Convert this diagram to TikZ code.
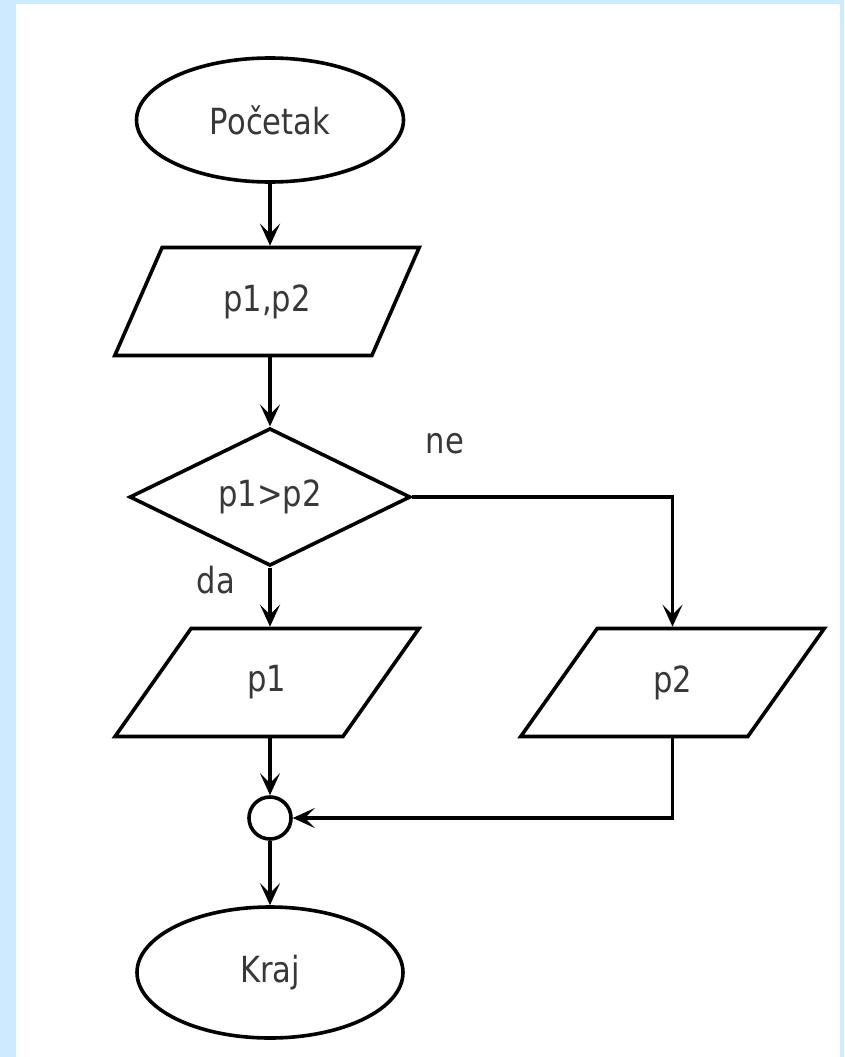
\documentclass[tikz,border=0pt]{standalone}
\usepackage{fontspec}
\setmainfont{DejaVu Sans}[FakeStretch=0.85]
\usetikzlibrary{shapes.geometric,arrows.meta}
\definecolor{bgblue}{HTML}{CCEBFF}
\begin{document}
\begin{tikzpicture}[x=1pt,y=-1pt,
  every node/.style={font=\fontsize{36}{40}\selectfont, text=black!78},
  shapeline/.style={draw=black, line width=3.6pt},
  terminal/.style={shapeline, ellipse, inner sep=0pt},
  io/.style={shapeline, trapezium, trapezium left angle=60, trapezium right angle=120,
    trapezium stretches=true, inner sep=0pt, minimum height=108pt, minimum width=305pt},
  decision/.style={shapeline, diamond, inner sep=0pt, minimum width=281pt, minimum height=135pt},
  joint/.style={shapeline, circle, inner sep=0pt, minimum size=42pt},
  conn/.style={line width=3.4pt, -{Stealth[length=22pt,width=20pt,inset=10pt]}},
  lbl/.style={inner sep=0pt}
]
\fill[bgblue] (0,0) rectangle (844,1057);
\fill[white] (16,4) rectangle (840,1057);
\useasboundingbox (0,0) rectangle (844,1057);

\node[terminal, minimum width=267pt, minimum height=124pt] (start) at (270,120) {Početak};
\node[io] (in) at (267,301.5) {p1,p2};
\node[decision] (dec) at (270,497) {p1>p2};
\node[io] (p1) at (267,682.5) {p1};
\node[io] (p2) at (672.5,682.5) {p2};
\node[joint] (j) at (270,818) {};
\node[terminal, minimum width=266pt, minimum height=131pt] (end) at (270,972.5) {Kraj};

\node[lbl] (ne) at (445,444) {ne};
\node[lbl] (da) at (216,580) {da};

\draw[conn] (start.south) -- (start.south |- in.north);
\draw[conn] (dec.north |- in.south) -- (dec.north);
\draw[conn] (dec.south) -- (dec.south |- p1.north);
\draw[conn] (dec.east) -| (p2.north);
\draw[conn] (j.north |- p1.south) -- (j.north);
\draw[conn] (p2.south) |- (j.east);
\draw[conn] (j.south) -- (end.north);
\end{tikzpicture}
\end{document}
